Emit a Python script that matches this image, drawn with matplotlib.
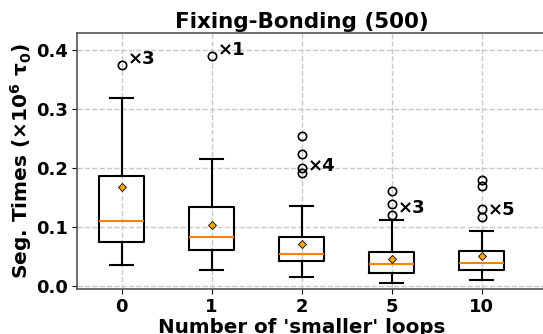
import matplotlib.pyplot as plt

plt.rcParams['font.weight'] = 'bold'
plt.rcParams['mathtext.default'] = 'bf'

# number of 'smaller' loops per group
loops = ['0', '1', '2', '5', '10']

# box statistics (units of 10^6 tau_0)
whislo = [0.0345, 0.026, 0.0141, 0.004, 0.0102]
q1 = [0.0747, 0.060, 0.0413, 0.0209, 0.0266]
med = [0.110, 0.0832, 0.0543, 0.0368, 0.0385]
q3 = [0.187, 0.1335, 0.0832, 0.0577, 0.0588]
whishi = [0.319, 0.2156, 0.135, 0.112, 0.0934]
means = [0.168, 0.103, 0.0713, 0.0458, 0.0509]
fliers = [
    [0.376],
    [0.390],
    [0.2546, 0.2246, 0.2008, 0.1924],
    [0.1618, 0.139, 0.1205],
    [0.1793, 0.170, 0.131, 0.1165],
]

# outlier counts and where their labels go
counts = [3, 1, 4, 3, 5]
count_y = [0.386, 0.400, 0.204, 0.132, 0.128]

stats = []
for i in range(len(loops)):
    stats.append(dict(whislo=whislo[i], q1=q1[i], med=med[i], q3=q3[i],
                      whishi=whishi[i], mean=means[i], fliers=fliers[i],
                      label=loops[i]))

fig = plt.figure(figsize=(5.43, 3.34), dpi=100)
ax = fig.add_axes([0.1412, 0.134, 0.9116, 0.766])

ax.bxp(stats, widths=0.5, showmeans=True,
       boxprops=dict(color='black', linewidth=1.5),
       whiskerprops=dict(color='black', linewidth=1.5),
       capprops=dict(color='black', linewidth=1.5),
       medianprops=dict(color='#ff7f0e', linewidth=1.5),
       meanprops=dict(marker='D', markerfacecolor='orange',
                      markeredgecolor='black', markeredgewidth=0.6, markersize=4.5),
       flierprops=dict(marker='o', markerfacecolor='none',
                       markeredgecolor='black', markersize=6, markeredgewidth=1.2))

for i, n in enumerate(counts):
    ax.text(i + 1.065, count_y[i], '×%d' % n, fontsize=13, fontweight='bold',
            va='center', ha='left')

ax.set_xlim(0.5, 6.0)
ax.set_ylim(-0.006, 0.429)
ax.set_yticks([0.0, 0.1, 0.2, 0.3, 0.4])
ax.grid(True, linestyle='--', color='#c8c8c8', linewidth=1.0)
ax.set_axisbelow(True)
for s in ax.spines.values():
    s.set_color('#555555')
    s.set_linewidth(1.2)

ax.tick_params(labelsize=13, pad=3)
ax.set_title('Fixing-Bonding (500)', fontsize=15.5, fontweight='bold', pad=4,
             x=0.4545)
ax.set_xlabel("Number of 'smaller' loops", fontsize=14.3, fontweight='bold',
              labelpad=1, x=0.4545)
ax.set_ylabel(r'Seg. Times ($\times10^6\ \tau_0$)', fontsize=14.5, fontweight='bold',
              labelpad=1)

fig.savefig('out.png', dpi=100)
